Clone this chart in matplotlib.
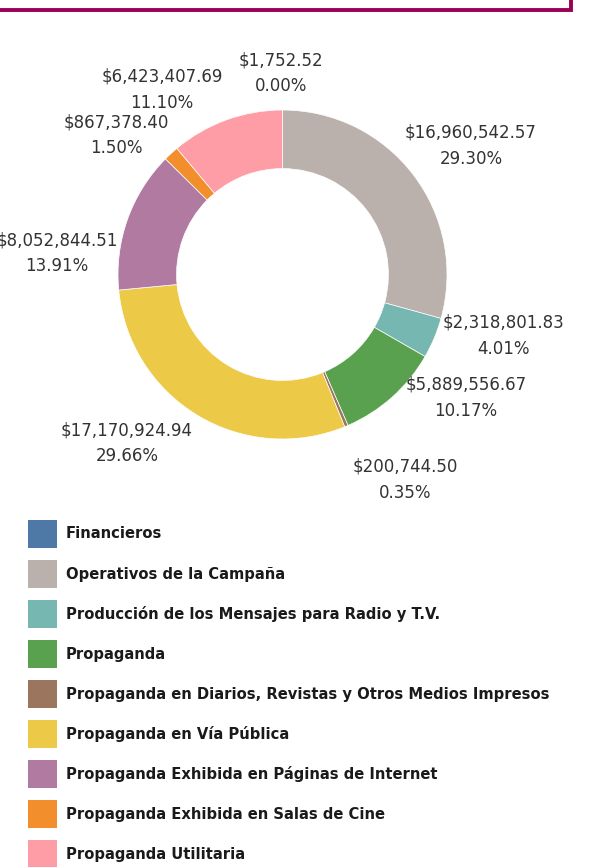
import matplotlib
matplotlib.use('Agg')
import matplotlib.pyplot as plt
from matplotlib.patches import Rectangle

# gasto por rubro (orden de las rebanadas, en sentido horario desde arriba)
categorias = ['Financieros', 'Operativos de la Campaña',
              'Producción de los Mensajes para Radio y T.V.', 'Propaganda',
              'Propaganda en Diarios, Revistas y Otros Medios Impresos',
              'Propaganda en Vía Pública', 'Propaganda Exhibida en Páginas de Internet',
              'Propaganda Exhibida en Salas de Cine', 'Propaganda Utilitaria']
montos = [1752.52, 16960542.57, 2318801.83, 5889556.67, 200744.50,
          17170924.94, 8052844.51, 867378.40, 6423407.69]
porcentajes = ['0.00%', '29.30%', '4.01%', '10.17%', '0.35%',
               '29.66%', '13.91%', '1.50%', '11.10%']
colores = ['#4E79A7', '#BAB0AC', '#76B7B2', '#59A14F', '#9C755F',
           '#EDC948', '#B07AA1', '#F28E2B', '#FF9DA7']

pos_etiquetas = [(281, 73), (471, 146), (504, 336), (466, 398), (405, 480),
                 (127, 443), (57, 253), (116, 135), (162, 90)]

W, H = 593, 867
fig = plt.figure(figsize=(W / 100, H / 100), dpi=100)
ax = fig.add_axes([0, 0, 1, 1])
ax.set_xlim(0, W)
ax.set_ylim(0, H)
ax.set_aspect('equal')
ax.axis('off')

# marco cortado del encabezado
ax.add_patch(Rectangle((-10, H - 9.5), 581, 40, fill=False,
                       edgecolor='#9B0057', linewidth=2.8))

cx, cy, R = 282.5, H - 274.5, 164.5
ax.pie(montos, colors=colores, center=(cx, cy), radius=R,
       startangle=90, counterclock=False,
       wedgeprops=dict(width=R * 0.356, edgecolor='white', linewidth=0.5))
ax.set_xlim(0, W)
ax.set_ylim(0, H)

for m, p, (x, y) in zip(montos, porcentajes, pos_etiquetas):
    ax.text(x, H - y + 13, '${:,.2f}'.format(m), ha='center', va='center',
            fontsize=12, color='#333333')
    ax.text(x, H - y - 13, p, ha='center', va='center',
            fontsize=12, color='#333333')

# leyenda
y0 = 534
for i, (cat, col) in enumerate(zip(categorias, colores)):
    yc = H - (y0 + 40 * i)
    ax.add_patch(Rectangle((28, yc - 14), 29, 28, facecolor=col, edgecolor='none'))
    ax.text(66, yc, cat, ha='left', va='center', fontsize=10.65,
            fontweight='bold', color='#1a1a1a')

fig.savefig('out.png', dpi=100)
